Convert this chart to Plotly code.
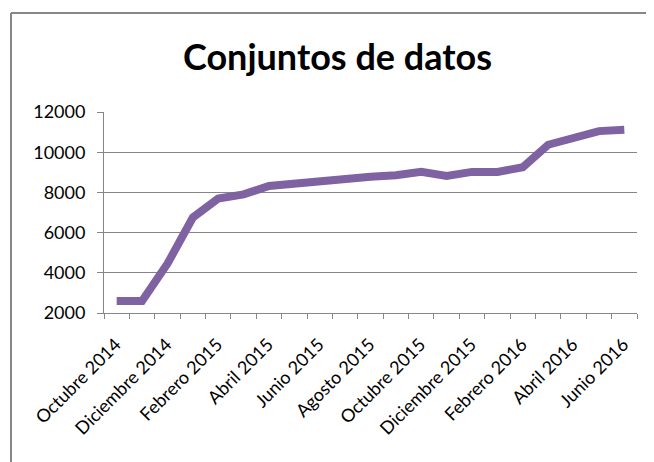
import plotly.graph_objects as go

months = ["Octubre 2014", "Noviembre 2014", "Diciembre 2014", "Enero 2015", "Febrero 2015",
          "Marzo 2015", "Abril 2015", "Mayo 2015", "Junio 2015", "Julio 2015", "Agosto 2015",
          "Septiembre 2015", "Octubre 2015", "Noviembre 2015", "Diciembre 2015", "Enero 2016",
          "Febrero 2016", "Marzo 2016", "Abril 2016", "Mayo 2016", "Junio 2016"]
values = [2600, 2600, 4450, 6750, 7700, 7900, 8320, 8450, 8520, 8720, 8780,
          8850, 9030, 8820, 9020, 9020, 9250, 10370, 10760, 11050, 11120]
tick_labels = [m if i % 2 == 0 else "" for i, m in enumerate(months)]

font_family = "Lato, Carlito, Calibri, sans-serif"

fig = go.Figure()
fig.add_trace(go.Scatter(
    x=months, y=values, mode="lines",
    line=dict(color="#7F62A1", width=8),
    hoverinfo="x+y",
))

# page body has an 8px offset; lay out in shifted coordinates
OFF = 8
W, H = 654 - OFF, 462 - OFF
ml, mt = 104 - OFF, 112 - OFF
pw, ph = 637 - 104, 313 - 112
mr, mb = W - ml - pw, H - mt - ph

def px_x(p):
    return (p - OFF - ml) / pw

def px_y(p):
    return 1 - (p - OFF - mt) / ph

fig.update_layout(
    width=W, height=H,
    margin=dict(l=ml, r=mr, t=mt, b=mb, autoexpand=False),
    paper_bgcolor="white", plot_bgcolor="white",
    showlegend=False,
    title=dict(text="<b>Conjuntos de datos</b>", x=(337.5 - OFF) / W, xanchor="center",
               y=1 - (57 - OFF) / H, yanchor="middle",
               font=dict(family=font_family, size=36, color="black")),
    font=dict(family=font_family, size=18, color="black"),
    xaxis=dict(
        type="category", categoryorder="array", categoryarray=months,
        tickmode="array", tickvals=months, ticktext=tick_labels,
        tickson="boundaries", ticks="outside", ticklen=5, tickcolor="#868686",
        tickangle=-45, showgrid=False, automargin=False,
        ticklabelshift=-1, ticklabelstandoff=13,
        showline=True, linecolor="#868686", linewidth=1,
        range=[-0.5, len(months) - 0.5],
        tickfont=dict(family=font_family, size=18, color="black"),
    ),
    yaxis=dict(
        range=[2000, 12000], dtick=2000, tick0=2000, tickformat="d",
        showgrid=True, gridcolor="#868686", gridwidth=1,
        ticks="outside", ticklen=6, tickcolor="#868686",
        showline=True, linecolor="#868686", linewidth=1,
        zeroline=False, automargin=False, ticklabelstandoff=8,
        tickfont=dict(family=font_family, size=18, color="black"),
    ),
    shapes=[
        dict(type="line", xref="paper", yref="paper",
             x0=px_x(11), x1=px_x(11), y0=px_y(13), y1=px_y(480),
             line=dict(color="#878787", width=2)),
        dict(type="line", xref="paper", yref="paper",
             x0=px_x(11), x1=px_x(670), y0=px_y(13), y1=px_y(13),
             line=dict(color="#878787", width=2)),
    ],
)

fig.write_html("out.html")
